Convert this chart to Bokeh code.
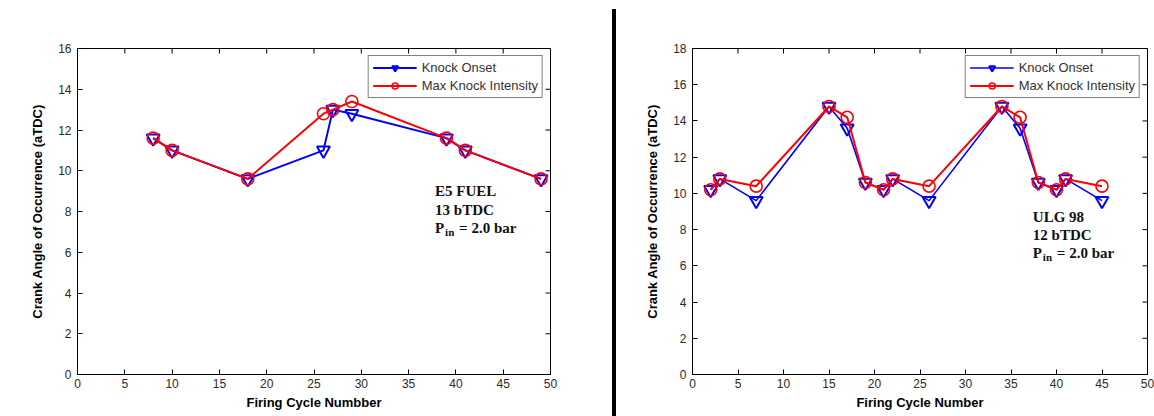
import math
from bokeh.plotting import figure
from bokeh.models import Range1d, Label, Legend, LegendItem, Div, FixedTicker
from bokeh.layouts import row
from bokeh.embed import file_html
from bokeh.resources import INLINE

# ---------------- data ----------------
a_cycles = [8, 10, 18, 26, 27, 29, 39, 41, 49]
a_onset = [11.6, 11.0, 9.6, 11.0, 13.0, 12.8, 11.6, 11.0, 9.6]
a_max = [11.6, 11.0, 9.6, 12.8, 13.0, 13.4, 11.6, 11.0, 9.6]

b_cycles = [2, 3, 7, 15, 17, 19, 21, 22, 26, 34, 36, 38, 40, 41, 45]
b_onset = [10.2, 10.8, 9.6, 14.8, 13.6, 10.6, 10.2, 10.8, 9.6, 14.8, 13.6, 10.6, 10.2, 10.8, 9.6]
b_max = [10.2, 10.8, 10.4, 14.8, 14.2, 10.6, 10.2, 10.8, 10.4, 14.8, 14.2, 10.6, 10.2, 10.8, 10.4]

x_ticks = [0, 5, 10, 15, 20, 25, 30, 35, 40, 45, 50]
a_y_ticks = [0, 2, 4, 6, 8, 10, 12, 14, 16]
b_y_ticks = [0, 2, 4, 6, 8, 10, 12, 14, 16, 18]

series_names = ["Knock Onset", "Max Knock Intensity"]
y_title = "Crank Angle of Occurrence (aTDC)"
a_x_title = "Firing Cycle Numbber"
b_x_title = "Firing Cycle Number"
a_notes = ["E5 FUEL", "13 bTDC"]
b_notes = ["ULG 98", "12 bTDC"]
pin_text = ["P", "in", "= 2.0 bar"]

SANS = "Liberation Sans"
SERIF = "Liberation Serif"
X_MAX = 50


def style_axis(ax, ticks):
    ax.ticker = FixedTicker(ticks=ticks)
    ax.major_tick_in = 5
    ax.major_tick_out = 0
    ax.minor_tick_line_color = None
    ax.axis_line_color = "black"
    ax.major_tick_line_color = "black"
    ax.major_label_text_font = SANS
    ax.major_label_text_font_size = "12px"
    ax.major_label_text_color = "#2a2a2a"


def make_panel(width, borders, y_max, y_ticks, cycles, onset, maxk, x_title,
               notes, note_x, note_ys, tag, tag_xy, blue_w):
    bl, br, bt, bb = borders
    p = figure(width=width, height=416, output_backend="svg", toolbar_location=None,
               x_range=Range1d(0, X_MAX), y_range=Range1d(0, y_max),
               min_border_left=bl, min_border_right=br, min_border_top=bt,
               min_border_bottom=bb)
    p.grid.visible = False
    p.outline_line_color = "black"
    p.background_fill_color = "white"
    p.border_fill_color = "white"

    xa = p.xaxis[0]
    ya = p.yaxis[0]
    style_axis(xa, x_ticks)
    style_axis(ya, y_ticks)
    xa.major_label_standoff = 4
    ya.major_label_standoff = 6
    xa.axis_label = x_title
    ya.axis_label = y_title
    for ax in (xa, ya):
        ax.axis_label_text_font = SANS
        ax.axis_label_text_font_style = "bold"
        ax.axis_label_text_font_size = "13px"
        ax.axis_label_text_color = "black"
    xa.axis_label_standoff = 4
    ya.axis_label_standoff = 10

    # inward ticks on the top and right edges (half of each dash is clipped by the frame)
    p.scatter(x_ticks, [y_max] * len(x_ticks), marker="dash", angle=math.pi / 2,
              size=10, line_color="black", line_width=1)
    p.scatter([X_MAX] * len(y_ticks), y_ticks, marker="dash",
              size=10, line_color="black", line_width=1)

    l1 = p.line(cycles, onset, line_color="#0000ff", line_width=blue_w)
    s1 = p.scatter(cycles, onset, marker="inverted_triangle", size=13,
                   fill_color=None, line_color="#0000ff", line_width=2)
    l2 = p.line(cycles, maxk, line_color="#ff0000", line_width=2)
    s2 = p.scatter(cycles, maxk, marker="circle", size=12,
                   fill_color=None, line_color="#ff0000", line_width=1.6)

    legend = Legend(items=[LegendItem(label=series_names[0], renderers=[l1, s1]),
                           LegendItem(label=series_names[1], renderers=[l2, s2])],
                    location="top_right", margin=7, padding=4,
                    border_line_color="black", border_line_width=1,
                    background_fill_color="white", background_fill_alpha=1,
                    label_text_font=SANS, label_text_font_size="13px",
                    label_text_color="#333333", glyph_width=44, glyph_height=15,
                    label_height=15, spacing=3, label_standoff=5)
    p.add_layout(legend)

    for txt, yy in zip(notes, note_ys[:2]):
        p.add_layout(Label(x=note_x, y=yy, text=txt, text_font=SERIF,
                           text_font_style="bold", text_font_size="15px",
                           text_baseline="middle", text_color="#111111"))
    yy = note_ys[2]
    p.add_layout(Label(x=note_x, y=yy, text=pin_text[0], text_font=SERIF,
                       text_font_style="bold", text_font_size="15px",
                       text_baseline="middle", text_color="#111111"))
    p.add_layout(Label(x=note_x, y=yy, x_offset=10, y_offset=-4, text=pin_text[1],
                       text_font=SERIF, text_font_style="bold", text_font_size="11px",
                       text_baseline="middle", text_color="#111111"))
    p.add_layout(Label(x=note_x, y=yy, x_offset=24, text=pin_text[2], text_font=SERIF,
                       text_font_style="bold", text_font_size="15px",
                       text_baseline="middle", text_color="#111111"))

    p.add_layout(Label(x=tag_xy[0], y=tag_xy[1], text=tag, text_font=SERIF,
                       text_font_style="bold", text_font_size="13px",
                       text_baseline="middle", text_color="#111111"))
    return p


pa = make_panel(612, (77, 62, 48, 40), 16, a_y_ticks, a_cycles, a_onset, a_max,
                a_x_title, a_notes, 37.8, [9.02, 8.05, 7.17], "(a)", (-7.2, 15.95), 2)
pb = make_panel(538, (76, 7, 41, 42), 18, b_y_ticks, b_cycles, b_onset, b_max,
                b_x_title, b_notes, 37.4, [8.7, 7.73, 6.7], "(b)", (-7.1, 17.9), 1.6)

divider = Div(text="", width=4, height=407, margin=(9, 0, 0, 0),
              styles={"background-color": "black"})

layout = row(pa, divider, pb)
open("out.html", "w").write(file_html(layout, INLINE))
